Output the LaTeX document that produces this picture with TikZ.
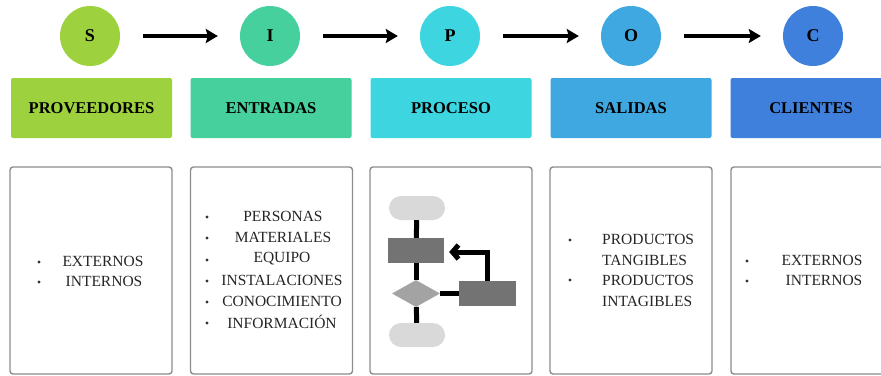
\documentclass[tikz,border=0pt]{standalone}
\usepackage{fontspec}
\setmainfont{Liberation Serif}
\usetikzlibrary{arrows.meta,shapes.geometric}
\definecolor{cS}{HTML}{9DD13D}
\definecolor{cI}{HTML}{45D09E}
\definecolor{cP}{HTML}{3DD5E0}
\definecolor{cO}{HTML}{3FA8E0}
\definecolor{cC}{HTML}{3F80DC}
\definecolor{pill}{HTML}{D9D9D9}
\definecolor{dark}{HTML}{737373}
\definecolor{mid}{HTML}{A3A3A3}
\definecolor{edge}{HTML}{8C8C8C}
\begin{document}
\begin{tikzpicture}[x=1pt,y=-1pt,
  circ/.style={circle,minimum size=60pt,inner sep=0pt,font=\fontsize{18}{20}\selectfont\bfseries},
  hbox/.style={rectangle,rounded corners=2pt,minimum width=161pt,minimum height=60pt,inner sep=0pt,font=\fontsize{16.5}{18}\selectfont\bfseries},
  bbox/.style={draw=edge,line width=1.4pt,rounded corners=3pt,minimum width=162pt,minimum height=207pt,inner sep=0pt,fill=white},
  big/.style={-{Stealth[length=12pt,width=14pt,inset=2pt]},line width=3.8pt,shorten <=23pt,shorten >=22pt},
  item/.style={font=\fontsize{15.5}{21}\selectfont,inner sep=0pt,align=center,text=black!85},
  dot/.style={circle,fill=black!80,minimum size=3.4pt,inner sep=0pt},
  pillst/.style={rectangle,rounded corners=12pt,fill=pill,minimum width=56pt,minimum height=24pt,inner sep=0pt},
  rectst/.style={rectangle,fill=dark,minimum width=56pt,minimum height=25pt,inner sep=0pt},
  fl/.style={line width=5pt,black}
]
\useasboundingbox (0,0) rectangle (881,375);
\clip (0,0) rectangle (881,375);

% circles
\node[circ,fill=cS] (s) at (90,36) {S};
\node[circ,fill=cI] (i) at (270,36) {I};
\node[circ,fill=cP] (p) at (450,36) {P};
\node[circ,fill=cO] (o) at (631,36) {O};
\node[circ,fill=cC] (c) at (813,36) {C};
\draw[big] (s) -- (i);
\draw[big] (i) -- (p);
\draw[big] (p) -- (o);
\draw[big] (o) -- (c);

% header boxes
\node[hbox,fill=cS] (hs) at (91.5,108) {PROVEEDORES};
\node[hbox,fill=cI] (hi) at (271,108) {ENTRADAS};
\node[hbox,fill=cP] (hp) at (451,108) {PROCESO};
\node[hbox,fill=cO] (ho) at (631,108) {SALIDAS};
\node[hbox,fill=cC] (hc) at (811,108) {CLIENTES};

% bottom boxes
\node[bbox] (b1) at (91,270.5) {};
\node[bbox] (b2) at (271.5,270.5) {};
\node[bbox] (b3) at (451,270.5) {};
\node[bbox] (b4) at (631,270.5) {};
\node[bbox] (b5) at (812,270.5) {};

% box 1
\node[dot] (d11) at (39,262) {};
\node[dot] (d12) at (39,282) {};
\node[item] (t11) at (103,261) {EXTERNOS};
\node[item] (t12) at (104,281) {INTERNOS};

% box 2
\node[dot] (d21) at (207,217) {};
\node[dot] (d22) at (207,238) {};
\node[dot] (d23) at (207,260) {};
\node[dot] (d24) at (207,281) {};
\node[dot] (d25) at (207,302) {};
\node[dot] (d26) at (207,323) {};
\node[item] (t21) at (283,216) {PERSONAS};
\node[item] (t22) at (283,237) {MATERIALES};
\node[item] (t23) at (282,259) {EQUIPO};
\node[item] (t24) at (282,280) {INSTALACIONES};
\node[item] (t25) at (282,301) {CONOCIMIENTO};
\node[item] (t26) at (282,322) {INFORMACIÓN};

% box 3: flowchart
\node[pillst] (fp1) at (417,208) {};
\node[rectst] (fr1) at (416,250.5) {};
\node[diamond,fill=mid,minimum width=48pt,minimum height=27pt,inner sep=0pt] (fd) at (416,293.5) {};
\node[rectst,minimum width=57pt] (fr2) at (487.5,293.5) {};
\node[pillst] (fp2) at (417,335) {};
\draw[fl] (fp1) -- (fr1);
\draw[fl] (fr1) -- (fd);
\draw[fl] (fd) -- (fp2);
\draw[fl] (fd) -- (fr2);
\draw[fl,-{Straight Barb[length=6pt,width=14pt]},shorten >=5pt] (fr2.north) |- ([yshift=-1.5pt]fr1.east);

% box 4
\node[dot] (d41) at (570,240) {};
\node[dot] (d42) at (570,280) {};
\node[item,anchor=west] (t41) at (602,239) {PRODUCTOS};
\node[item,anchor=west] (t42) at (602,260) {TANGIBLES};
\node[item,anchor=west] (t43) at (602,280) {PRODUCTOS};
\node[item,anchor=west] (t44) at (602,301) {INTAGIBLES};

% box 5
\node[dot] (d51) at (747,261) {};
\node[dot] (d52) at (747,281) {};
\node[item] (t51) at (822,260) {EXTERNOS};
\node[item] (t52) at (824,280) {INTERNOS};
\end{tikzpicture}
\end{document}
